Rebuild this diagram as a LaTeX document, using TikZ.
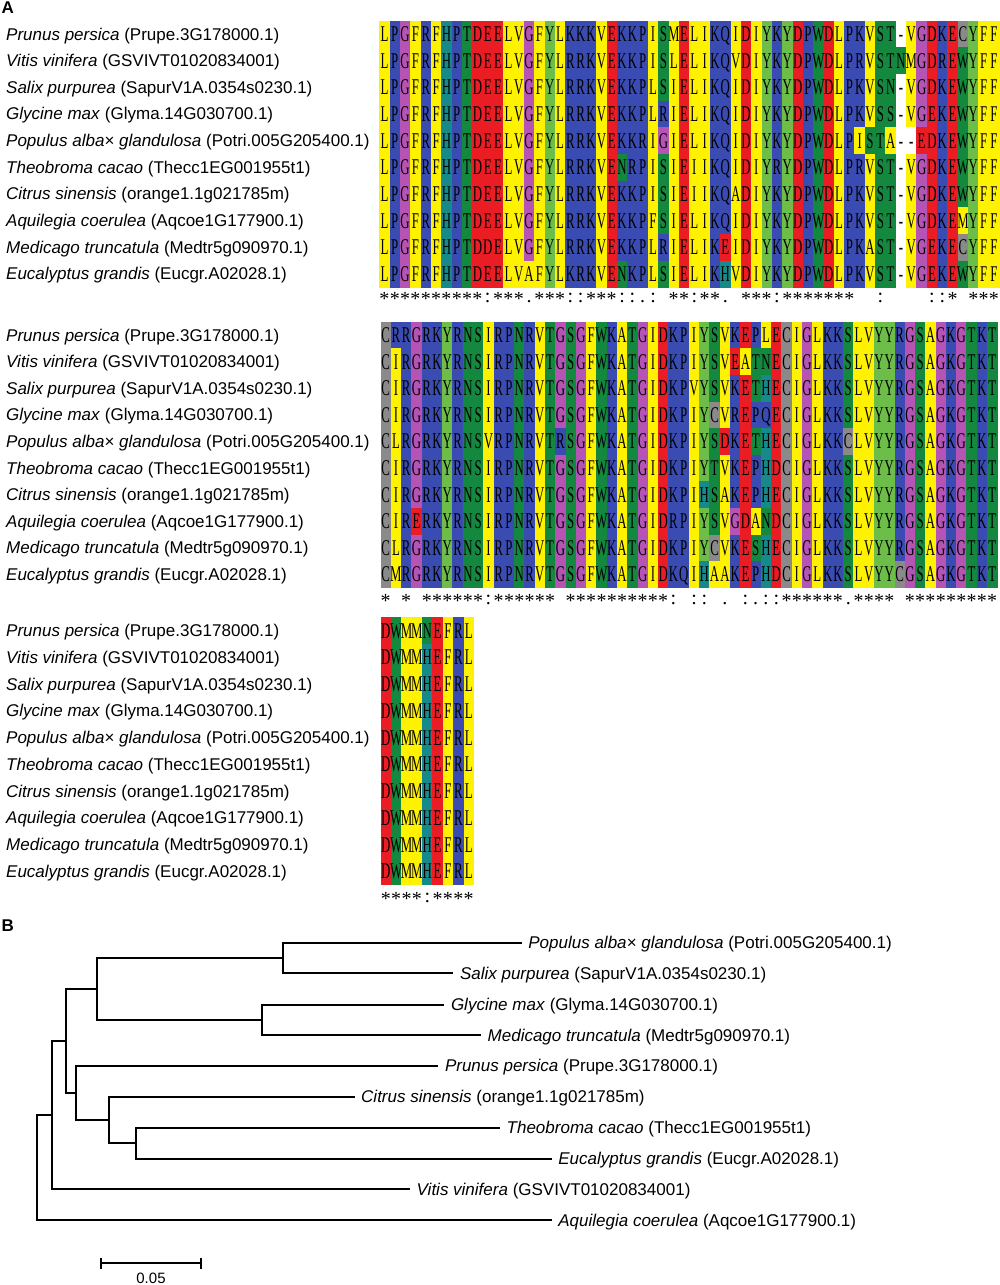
\documentclass[tikz,border=0pt]{standalone}
\usepackage{fontspec}
\setmainfont{Liberation Sans}
\newfontfamily\seqfont[FakeStretch=0.57]{Liberation Serif}
\newfontfamily\starfont{Liberation Serif}
\usetikzlibrary{calc}

\definecolor{resY}{RGB}{255,242,0}
\definecolor{resB}{RGB}{58,76,178}
\definecolor{resM}{RGB}{182,84,182}
\definecolor{resT}{RGB}{22,138,138}
\definecolor{resG}{RGB}{20,136,62}
\definecolor{resR}{RGB}{234,28,36}
\definecolor{resL}{RGB}{108,190,72}
\definecolor{resC}{RGB}{138,138,138}

\def\rcA{resY}\def\rcV{resY}\def\rcL{resY}\def\rcI{resY}\def\rcM{resY}\def\rcF{resY}
\def\rcR{resB}\def\rcK{resB}\def\rcP{resB}\def\rcQ{resB}
\def\rcG{resM}
\def\rcH{resT}
\def\rcS{resG}\def\rcT{resG}\def\rcN{resG}\def\rcW{resG}
\def\rcD{resR}\def\rcE{resR}
\def\rcY{resL}
\def\rcC{resC}
\expandafter\def\csname rc-\endcsname{white}

\newcount\seqcol
\newcommand\AlCell[1]{%
  \pgfmathsetmacro\AlX{\AlXz+(\the\seqcol-1)*\AlCw}%
  \ifnum\AlPass=0\relax
    \edef\AlCol{\csname rc#1\endcsname}%
    \fill[\AlCol] (\AlX,\AlYt) rectangle ++(\AlCw+0.5,\AlCh+0.5);%
  \else
    \node[seqletter,name=s\AlBlk r\AlRow c\the\seqcol] at ({\AlX+\AlCw/2},\AlYb) {#1};%
  \fi}
\newcommand\AlLoop[1]{\ifx#1\relax\else\global\advance\seqcol by 1\relax\AlCell{#1}\expandafter\AlLoop\fi}
\newcommand\AlRowCmd[2]{%
  \global\seqcol=0\relax
  \def\AlRow{#1}%
  \pgfmathsetmacro\AlYt{\AlYz+(#1-1)*\AlCh}%
  \pgfmathsetmacro\AlYb{\AlYt+\AlCh/2+7.5}%
  \AlLoop#2\relax}
\newcommand\AlStarCell[1]{%
  \if#1-\else
    \pgfmathsetmacro\AlX{\AlXz+(\the\seqcol-0.5)*\AlCw}%
    \if#1*\def\AlSy{\AlSb+3.5}\else\def\AlSy{\AlSb}\fi
    \node[starchar,name=k\AlBlk c\the\seqcol] at (\AlX,{\AlSy}) {#1};%
  \fi}
\newcommand\AlStarLoop[1]{\ifx#1\relax\else\global\advance\seqcol by 1\relax\AlStarCell{#1}\expandafter\AlStarLoop\fi}
\newcommand\AlStars[1]{\global\seqcol=0\relax\AlStarLoop#1\relax}

\newcommand\BlockOne{%
 \AlRowCmd{1}{LPGFRFHPTDEELVGFYLKKKVEKKPISMELIKQIDIYKYDPWDLPKVST-VGDKECYFF}%
 \AlRowCmd{2}{LPGFRFHPTDEELVGFYLRRKVEKKPISLELIKQVDIYKYDPWDLPRVSTNMGDREWYFF}%
 \AlRowCmd{3}{LPGFRFHPTDEELVGFYLRRKVEKKPLSIELIKQIDIYKYDPWDLPKVSN-VGDKEWYFF}%
 \AlRowCmd{4}{LPGFRFHPTDEELVGFYLRRKVEKKPLRIELIKQIDIYKYDPWDLPKVSS-VGEKEWYFF}%
 \AlRowCmd{5}{LPGFRFHPTDEELVGFYLRRKVEKKRIGIELIKQIDIYKYDPWDLPISTA--EDKEWYFF}%
 \AlRowCmd{6}{LPGFRFHPTDEELVGFYLRRKVENRPISIEIIKQIDIYRYDPWDLPRVST-VGDKEWYFF}%
 \AlRowCmd{7}{LPGFRFHPTDEELVGFYLRRKVEKKPISIEIIKQADIYKYDPWDLPKVST-VGDKEWYFF}%
 \AlRowCmd{8}{LPGFRFHPTDEELVGFYLRRKVEKKPFSIELIKQIDIYKYDPWDLPKVST-VGDKEMYFF}%
 \AlRowCmd{9}{LPGFRFHPTDDELVGFYLRRKVEKKPLRIELIKEIDIYKYDPWDLPKAST-VGEKECYFF}%
 \AlRowCmd{10}{LPGFRFHPTDEELVAFYLKRKVENKPLSIELIKHVDIYKYDPWDLPKVST-VGEKEWYFF}}
\newcommand\BlockTwo{%
 \AlRowCmd{1}{CRRGRKYRNSIRPNRVTGSGFWKATGIDKPIYSVKEPLECIGLKKSLVYYRGSAGKGTKT}%
 \AlRowCmd{2}{CIRGRKYRNSIRPNRVTGSGFWKATGIDKPIYSVEATNECIGLKKSLVYYRGSAGKGTKT}%
 \AlRowCmd{3}{CIRGRKYRNSIRPNRVTGSGFWKATGIDKPVYSVKETHECIGLKKSLVYYRGSAGKGTKT}%
 \AlRowCmd{4}{CIRGRKYRNSIRPNRVTGSGFWKATGIDKPIYCVREPQECIGLKKSLVYYRGSAGKGTKT}%
 \AlRowCmd{5}{CLRGRKYRNSVRPNRVTRSGFWKATGIDKPIYSDKETHECIGLKKCLVYYRGSAGKGTKT}%
 \AlRowCmd{6}{CIRGRKYRNSIRPNRVTGSGFWKATGIDKPIYTVKEPHDCIGLKKSLVYYRGSAGKGTKT}%
 \AlRowCmd{7}{CIRGRKYRNSIRPNRVTGSGFWKATGIDKPIHSAKEPHECIGLKKSLVYYRGSAGKGTKT}%
 \AlRowCmd{8}{CIRERKYRNSIRPNRVTGSGFWKATGIDRPIYSVGDANDCIGLKKSLVYYRGSAGKGTKT}%
 \AlRowCmd{9}{CLRGRKYRNSIRPNRVTGSGFWKATGIDKPIYCVKESHECIGLKKSLVYYRGSAGKGTKT}%
 \AlRowCmd{10}{CMRGRKYRNSIRPNRVTGSGFWKATGIDKQIHAAKEPHDCIGLKKSLVYYCGSAGKGTKT}}
\newcommand\BlockThree{%
 \AlRowCmd{1}{DWMMNEFRL}%
 \AlRowCmd{2}{DWMMHEFRL}%
 \AlRowCmd{3}{DWMMHEFRL}%
 \AlRowCmd{4}{DWMMHEFRL}%
 \AlRowCmd{5}{DWMMHEFRL}%
 \AlRowCmd{6}{DWMMHEFRL}%
 \AlRowCmd{7}{DWMMHEFRL}%
 \AlRowCmd{8}{DWMMHEFRL}%
 \AlRowCmd{9}{DWMMHEFRL}%
 \AlRowCmd{10}{DWMMHEFRL}}

\newcommand\SpLab[1]{\ifcase#1\or
 \textit{Prunus persica} (Prupe.3G178000.1)\or
 \textit{Vitis vinifera} (GSVIVT01020834001)\or
 \textit{Salix purpurea} (SapurV1A.0354s0230.1)\or
 \textit{Glycine max} (Glyma.14G030700.1)\or
 \textit{Populus alba× glandulosa} (Potri.005G205400.1)\or
 \textit{Theobroma cacao} (Thecc1EG001955t1)\or
 \textit{Citrus sinensis} (orange1.1g021785m)\or
 \textit{Aquilegia coerulea} (Aqcoe1G177900.1)\or
 \textit{Medicago truncatula} (Medtr5g090970.1)\or
 \textit{Eucalyptus grandis} (Eucgr.A02028.1)\fi}

\tikzset{
  lab/.style={anchor=base west, inner sep=0pt, font=\fontsize{17}{20}\selectfont},
  seqletter/.style={anchor=base, inner sep=0pt, font=\seqfont\fontsize{22.5}{24}\selectfont},
  starchar/.style={anchor=base, inner sep=0pt, font=\starfont\fontsize{20}{22}\selectfont},
  panel/.style={anchor=base west, inner sep=0pt, font=\bfseries\fontsize{17}{19}\selectfont},
  branch/.style={line width=1.7pt, line join=miter},
}

\begin{document}
\begin{tikzpicture}[x=1pt,y=-1pt]
\fill[white] (0,0) rectangle (1000,1285);
\useasboundingbox (0,0) rectangle (1000,1285);

\node[panel] (panA) at (1.5,13.5) {A};
\node[panel] (panB) at (1.5,931) {B};

% ---- block 1
\def\AlBlk{a}\def\AlXz{379.3}\def\AlCw{10.33}\def\AlYz{20.7}\def\AlCh{26.66}
\def\AlPass{0}\BlockOne
\def\AlPass{1}\BlockOne
\def\AlSb{302}
\AlStars{**********:***.***::***::.:-**:**.-***:*******--:----::*-***}
\foreach \i in {1,...,10} {\node[lab,name=la\i] at (6,{34+26.66*(\i-1)+6}) {\SpLab{\i}};}

% ---- block 2
\def\AlBlk{b}\def\AlXz{380.5}\def\AlCw{10.28}\def\AlYz{321.7}\def\AlCh{26.6}
\def\AlPass{0}\BlockTwo
\def\AlPass{1}\BlockTwo
\def\AlSb{604}
\AlStars{*-*-******:******-**********:-::-.-:.::******.****-*********}
\foreach \i in {1,...,10} {\node[lab,name=lb\i] at (6,{335+26.6*(\i-1)+6}) {\SpLab{\i}};}

% ---- block 3
\def\AlBlk{c}\def\AlXz{380.7}\def\AlCw{10.35}\def\AlYz{617.3}\def\AlCh{26.75}
\def\AlPass{0}\BlockThree
\def\AlPass{1}\BlockThree
\def\AlSb{902}
\AlStars{****:****}
\foreach \i in {1,...,10} {\node[lab,name=lc\i] at (6,{630.7+26.75*(\i-1)+6}) {\SpLab{\i}};}

% ---- tree
\coordinate (Lpop) at (521.7,942.7);
\coordinate (Lsal) at (453.3,973.3);
\coordinate (Lgly) at (444.3,1004.7);
\coordinate (Lmed) at (481,1035);
\coordinate (Lpru) at (438.3,1065.7);
\coordinate (Lcit) at (354.5,1096.7);
\coordinate (Lthe) at (500,1127.7);
\coordinate (Leuc) at (551.7,1158.7);
\coordinate (Lvit) at (410,1189.3);
\coordinate (Laqu) at (551.7,1220.3);

\coordinate (nPS) at (282.7,958);
\coordinate (nGM) at (262.3,1019.85);
\coordinate (nA) at (96.7,988.9);
\coordinate (nE) at (135.7,1143.2);
\coordinate (nD) at (109.3,1119.95);
\coordinate (nC) at (75.7,1092.8);
\coordinate (nB) at (65.7,1040.85);
\coordinate (nF) at (51.7,1115.1);
\coordinate (nR) at (36.7,1167.7);

\draw[branch] (nPS) |- (Lpop);
\draw[branch] (nPS) |- (Lsal);
\draw[branch] (nGM) |- (Lgly);
\draw[branch] (nGM) |- (Lmed);
\draw[branch] (nA) |- (nPS);
\draw[branch] (nA) |- (nGM);
\draw[branch] (nE) |- (Lthe);
\draw[branch] (nE) |- (Leuc);
\draw[branch] (nD) |- (Lcit);
\draw[branch] (nD) |- (nE);
\draw[branch] (nC) |- (Lpru);
\draw[branch] (nC) |- (nD);
\draw[branch] (nB) |- (nA);
\draw[branch] (nB) |- (nC);
\draw[branch] (nF) |- (nB);
\draw[branch] (nF) |- (Lvit);
\draw[branch] (nR) |- (nF);
\draw[branch] (nR) |- (Laqu);

\node[lab] (tpop) at ($(Lpop)+(6.5,6)$) {\SpLab{5}};
\node[lab] (tsal) at ($(Lsal)+(6.5,6)$) {\SpLab{3}};
\node[lab] (tgly) at ($(Lgly)+(6.5,6)$) {\SpLab{4}};
\node[lab] (tmed) at ($(Lmed)+(6.5,6)$) {\SpLab{9}};
\node[lab] (tpru) at ($(Lpru)+(6.5,6)$) {\SpLab{1}};
\node[lab] (tcit) at ($(Lcit)+(6.5,6)$) {\SpLab{7}};
\node[lab] (tthe) at ($(Lthe)+(6.5,6)$) {\SpLab{6}};
\node[lab] (teuc) at ($(Leuc)+(6.5,6)$) {\SpLab{10}};
\node[lab] (tvit) at ($(Lvit)+(6.5,6)$) {\SpLab{2}};
\node[lab] (taqu) at ($(Laqu)+(6.5,6)$) {\SpLab{8}};

% ---- scale bar
\coordinate (sbL) at (101,1263.3);
\coordinate (sbR) at (201,1263.3);
\draw[branch] (sbL) -- (sbR);
\draw[branch] ($(sbL)+(0,-5.5)$) -- ($(sbL)+(0,5.5)$);
\draw[branch] ($(sbR)+(0,-5.5)$) -- ($(sbR)+(0,5.5)$);
\node[anchor=base, inner sep=0pt, font=\fontsize{15}{17}\selectfont] (sbT) at (151,1283.5) {0.05};
\end{tikzpicture}
\end{document}
